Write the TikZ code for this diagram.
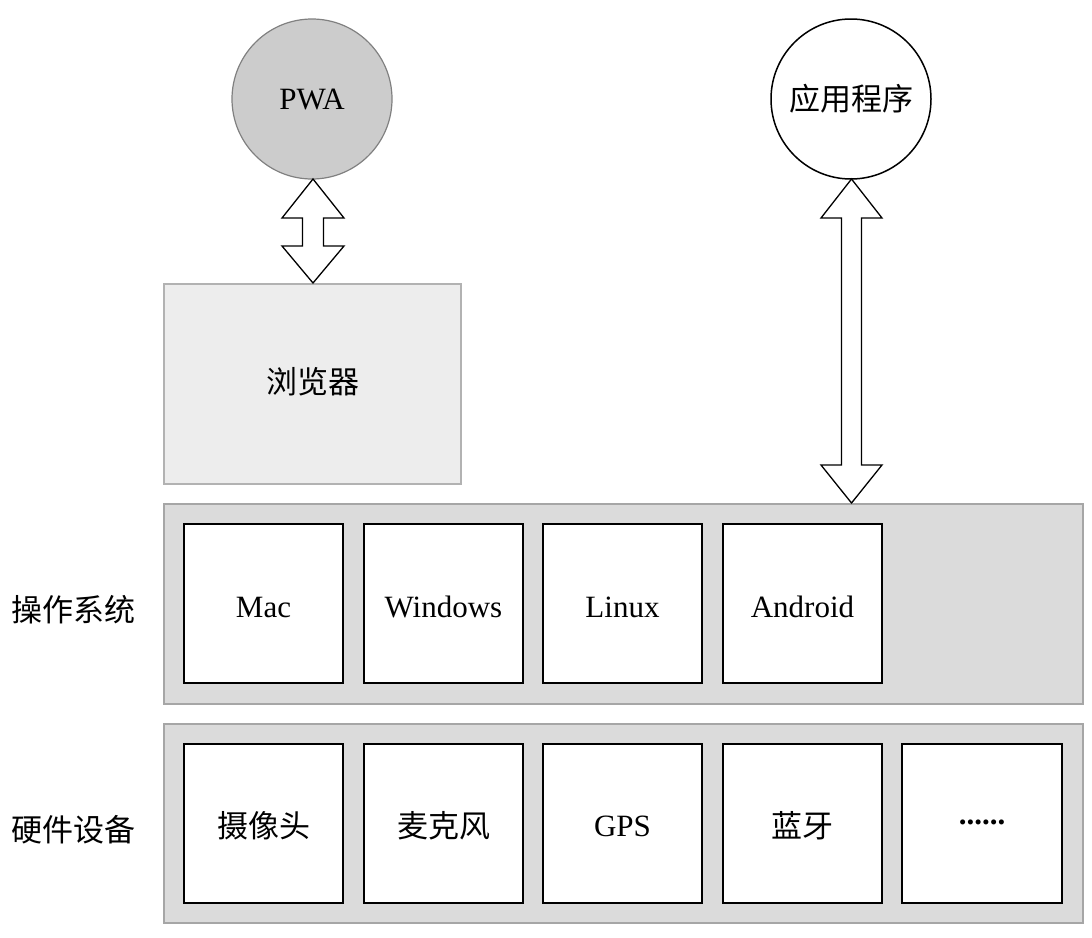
\documentclass[tikz,border=0pt]{standalone}
\usepackage{fontspec}
\setmainfont{Liberation Serif}
\newfontfamily\cjk{Noto Sans CJK SC}
\begin{document}
\begin{tikzpicture}[x=1pt,y=-1pt,
  bar/.style={draw=black!35,fill=black!14,line width=1.5pt},
  box/.style={draw=black,fill=white,line width=1.8pt},
  dbl/.style={draw=black,fill=white,line width=1.3pt,line join=miter},
  lat/.style={font=\fontsize{31}{31}\selectfont},
  zh/.style={font=\cjk\fontsize{31}{31}\selectfont}]
\useasboundingbox (0,0) rectangle (1092,937);
% circles
\node[circle,minimum size=160pt,draw=black!50,fill=black!20,line width=1.2pt,lat] (pwa) at (312,99) {PWA};
\node[circle,minimum size=160pt,draw=black,fill=white,line width=1.5pt,zh] (app) at (851,99) {应用程序};
% browser
\draw[draw=black!30,fill=black!7,line width=1.3pt] (164,284) rectangle (461,484);
\node[zh] (br) at (313,382) {浏览器};
% bars
\draw[bar] (164,504) rectangle (1083,704);
\draw[bar] (164,724) rectangle (1083,923);
\node[zh,anchor=west] (os) at (8,610) {操作系统};
\node[zh,anchor=west] (hw) at (8,830) {硬件设备};
% OS boxes
\foreach \x/\t/\n in {184/Mac/m,364/Windows/w,543/Linux/l,723/Android/a}{
  \draw[box] (\x,524) rectangle ++(159,159);
  \node[lat] (os\n) at (\x+79.5,607) {\t};
}
\foreach \x/\t/\n in {184/摄像头/c,364/麦克风/k,723/蓝牙/b}{
  \draw[box] (\x,744) rectangle ++(159,159);
  \node[zh] (hw\n) at (\x+79.5,826) {\t};
}
\draw[box] (543,744) rectangle ++(159,159);
\node[lat] (hwg) at (622.5,826) {GPS};
\draw[box] (902,744) rectangle ++(160,159);
\node[lat] (hwd) at (982,822) {\textbf{......}};
% double arrows
\draw[dbl] (313,179) -- (344,218) -- (323.5,218) -- (323.5,246) -- (344,246) -- (313,283)
  -- (282,246) -- (302.5,246) -- (302.5,218) -- (282,218) -- cycle;
\draw[dbl] (851.5,179) -- (882,218) -- (861.5,218) -- (861.5,465) -- (882,465) -- (851.5,503)
  -- (821,465) -- (841.5,465) -- (841.5,218) -- (821,218) -- cycle;
\end{tikzpicture}
\end{document}
